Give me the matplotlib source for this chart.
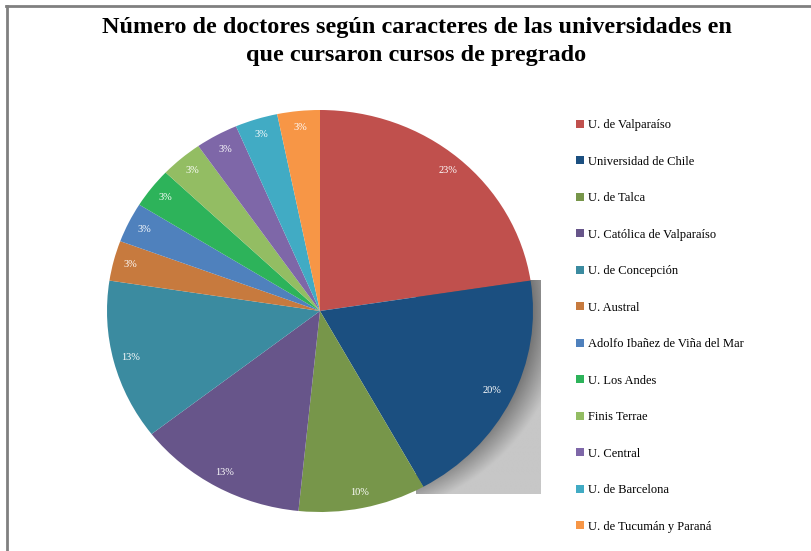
import numpy as np
import matplotlib.pyplot as plt
from matplotlib.lines import Line2D

# doctors per university (pregrado)
universities = ['U. de Valparaíso', 'Universidad de Chile', 'U. de Talca',
                'U. Católica de Valparaíso', 'U. de Concepción', 'U. Austral',
                'Adolfo Ibañez de Viña del Mar', 'U. Los Andes', 'Finis Terrae',
                'U. Central', 'U. de Barcelona', 'U. de Tucumán y Paraná']
counts = [7, 6, 3, 4, 4, 1, 1, 1, 1, 1, 1, 1]
pct_labels = ['23%', '20%', '10%', '13%', '13%', '3%',
              '3%', '3%', '3%', '3%', '3%', '3%']
colors = ['#C0504D', '#1B4F80', '#77964A', '#67558A', '#3B8BA0', '#C77A3E',
          '#4F81BD', '#2DB35A', '#93BD63', '#7E67A8', '#41ABC4', '#F79646']

W, H = 812, 551
fig = plt.figure(figsize=(W / 100, H / 100), dpi=100)
fig.patch.set_facecolor('white')

# pie axes (slightly wider than tall, like the original)
cx, cy, rx, ry = 320, 311, 213, 201
ax = fig.add_axes([(cx - rx) / W, (H - cy - ry) / H, 2 * rx / W, 2 * ry / H])

# shadow behind the blue slice
gx = np.linspace(0.45, 1.035, 200)
gy = np.linspace(-0.91, 0.15, 300)
X, Y = np.meshgrid(gx, gy)
R = np.sqrt(X ** 2 + Y ** 2)
shade = np.clip(0.38 + (R - 0.97) * 2.4 + (1.035 - X) * 0.25, 0.38, 0.78)
img = ax.imshow(shade, cmap='gray', vmin=0, vmax=1, origin='lower',
                extent=[gx[0], gx[-1], gy[0], gy[-1]], zorder=0, aspect='auto')
img.set_clip_on(False)

wedges, _ = ax.pie(counts, colors=colors, startangle=90, counterclock=False,
                   wedgeprops=dict(linewidth=0))
for w in wedges:
    w.set_zorder(2)

for w, lab in zip(wedges, pct_labels):
    ang = np.deg2rad((w.theta1 + w.theta2) / 2)
    d = 0.92 if lab != '20%' else 0.9
    ax.text(d * np.cos(ang), d * np.sin(ang), lab, ha='center', va='center',
            color='white', fontsize=7.5, family='Liberation Serif', zorder=3)

ax.set_aspect('auto')
ax.set_xlim(-1, 1)
ax.set_ylim(-1, 1)
ax.axis('off')

# title
fig.text(417 / W, 1 - 27 / H, 'Número de doctores según caracteres de las universidades en',
         ha='center', va='center', fontsize=17.5, fontweight='bold', family='Liberation Serif')
fig.text(416 / W, 1 - 55 / H, 'que cursaron cursos de pregrado',
         ha='center', va='center', fontsize=17.5, fontweight='bold', family='Liberation Serif')

# legend
handles = [Line2D([0], [0], marker='s', linestyle='none', markersize=5.5,
                  markerfacecolor=c, markeredgewidth=0) for c in colors]
leg = fig.legend(handles, universities, loc='upper left',
                 bbox_to_anchor=(566 / W, 1 - 108 / H), frameon=False,
                 prop={'family': 'Liberation Serif', 'size': 9},
                 labelspacing=1.96, handlelength=0.5, handletextpad=0.35)

# outer frame lines (top and left)
fig.add_artist(Line2D([6 / W, 1], [1 - 6 / H, 1 - 6 / H], color='#808080', lw=2))
fig.add_artist(Line2D([7 / W, 7 / W], [0, 1 - 6 / H], color='#808080', lw=2))

fig.savefig('out.png', dpi=100)
